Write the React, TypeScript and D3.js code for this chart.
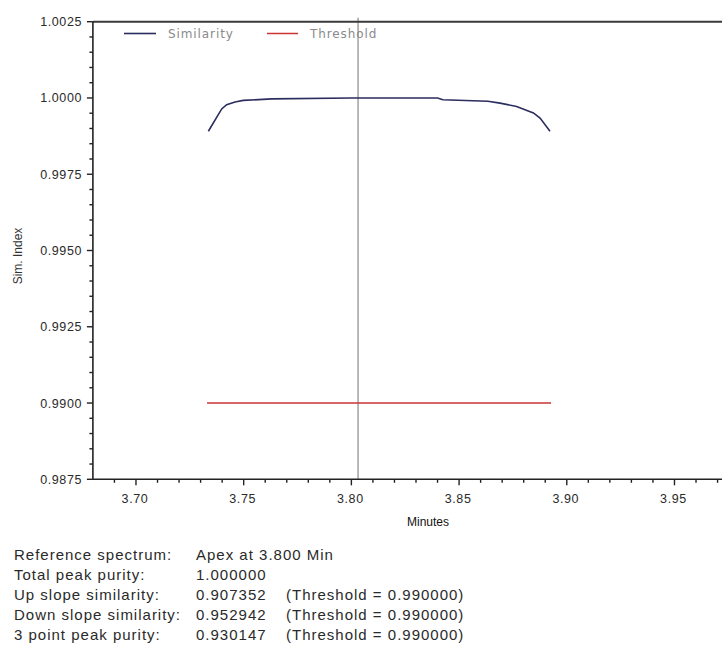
import React from "react";
import * as d3 from "d3";

const simX = [3.7336, 3.7398, 3.7421, 3.746, 3.7498, 3.763, 3.8, 3.84, 3.8425, 3.8634, 3.869, 3.8767, 3.8845, 3.8876, 3.8922];
const simY = [0.99891, 0.99964, 0.99978, 0.99987, 0.99992, 0.99997, 1.0, 1.0, 0.99994, 0.99989, 0.99983, 0.99972, 0.99951, 0.99934, 0.99891];
const thrX = [3.733, 3.8927];
const thrY = [0.99, 0.99];
const apexX = 3.8031;
const xMajor = [3.7, 3.75, 3.8, 3.85, 3.9, 3.95];
const yMajor = [0.9875, 0.99, 0.9925, 0.995, 0.9975, 1.0, 1.0025];
const legendLabels = ["Similarity", "Threshold"];
const infoRows = [
  ["Reference spectrum:", "Apex at 3.800 Min", ""],
  ["Total peak purity:", "1.000000", ""],
  ["Up slope similarity:", "0.907352", "(Threshold = 0.990000)"],
  ["Down slope similarity:", "0.952942", "(Threshold = 0.990000)"],
  ["3 point peak purity:", "0.930147", "(Threshold = 0.990000)"],
];

export default function App() {
  const W = 722, H = 647;
  const left = 92.9, top = 21.7, bottom = 479.3;
  const x = d3.scaleLinear().domain([3.68, 3.98]).range([left, left + 0.3 * 2154]);
  const y = d3.scaleLinear().domain([0.9875, 1.0025]).range([bottom, top]);
  const line = d3.line<[number, number]>().x((d) => x(d[0])).y((d) => y(d[1]));
  const simData = simX.map((v, i) => [v, simY[i]] as [number, number]);
  const thrData = thrX.map((v, i) => [v, thrY[i]] as [number, number]);
  const xMinor = d3.range(3.69, 3.975, 0.01).map((v) => +v.toFixed(2)).filter((v) => !xMajor.some((m) => Math.abs(m - v) < 1e-6));
  const yMinor = d3.range(0.9875, 1.0026, 0.0005).map((v) => +v.toFixed(4)).filter((v) => !yMajor.some((m) => Math.abs(m - v) < 1e-7));
  const font = "'Liberation Sans', Arial, sans-serif";
  return (
    <div style={{ position: "absolute", left: 0, top: 0 }}>
      <svg width={W} height={H} style={{ display: "block", background: "#fff" }}>
        <rect x={0} y={0} width={W} height={H} fill="#fff" />
        <line x1={x(apexX)} x2={x(apexX)} y1={top - 4} y2={bottom} stroke="#8a8a8a" strokeWidth={1.2} />
        <path d={line(thrData) || ""} fill="none" stroke="#cc3333" strokeWidth={1.5} />
        <path d={line(simData) || ""} fill="none" stroke="#2b2d5e" strokeWidth={1.6} />
        <line x1={left} x2={W} y1={top} y2={top} stroke="#3a3a3a" strokeWidth={2} />
        <line x1={left} x2={left} y1={top} y2={bottom} stroke="#222" strokeWidth={1.6} />
        <line x1={left} x2={W} y1={bottom} y2={bottom} stroke="#222" strokeWidth={1.6} />
        {yMajor.map((v) => (
          <g key={"ym" + v}>
            <line x1={left - 6} x2={left} y1={y(v)} y2={y(v)} stroke="#222" strokeWidth={1.4} />
            <text x={82} y={y(v) + 4.5} textAnchor="end" fontFamily={font} fontSize={12.5} letterSpacing={0.6} fill="#2a2a2a">
              {v.toFixed(4)}
            </text>
          </g>
        ))}
        {yMinor.map((v) => (
          <line key={"yn" + v} x1={left - 3.5} x2={left} y1={y(v)} y2={y(v)} stroke="#222" strokeWidth={1.4} />
        ))}
        {xMajor.map((v) => (
          <g key={"xm" + v}>
            <line x1={x(v)} x2={x(v)} y1={bottom} y2={bottom + 6} stroke="#222" strokeWidth={1.4} />
            <text x={x(v) - 1} y={503} textAnchor="middle" fontFamily={font} fontSize={12.5} letterSpacing={0.6} fill="#2a2a2a">
              {v.toFixed(2)}
            </text>
          </g>
        ))}
        {xMinor.map((v) => (
          <line key={"xn" + v} x1={x(v)} x2={x(v)} y1={bottom} y2={bottom + 3.5} stroke="#222" strokeWidth={1.4} />
        ))}
        <text x={428} y={526} textAnchor="middle" fontFamily={font} fontSize={12} fill="#111">
          Minutes
        </text>
        <text transform={`translate(22,256) rotate(-90)`} textAnchor="middle" fontFamily={font} fontSize={12} fill="#333">
          Sim. Index
        </text>
        <line x1={124} x2={156} y1={33.5} y2={33.5} stroke="#2b2d5e" strokeWidth={1.6} />
        <text x={168} y={38} fontFamily="'DejaVu Sans', sans-serif" fontSize={12} letterSpacing={0.9} fill="#8a8a8a">
          {legendLabels[0]}
        </text>
        <line x1={267} x2={298} y1={33.5} y2={33.5} stroke="#cc3333" strokeWidth={1.5} />
        <text x={310} y={38} fontFamily="'DejaVu Sans', sans-serif" fontSize={12} letterSpacing={0.9} fill="#8a8a8a">
          {legendLabels[1]}
        </text>
        {infoRows.map((r, i) => (
          <g key={"row" + i} fontFamily={font} fontSize={15} letterSpacing={1.0} fill="#2a2a2a">
            <text x={14} y={559.5 + i * 20}>{r[0]}</text>
            <text x={196} y={559.5 + i * 20}>{r[1]}</text>
            <text x={286} y={559.5 + i * 20}>{r[2]}</text>
          </g>
        ))}
      </svg>
    </div>
  );
}
